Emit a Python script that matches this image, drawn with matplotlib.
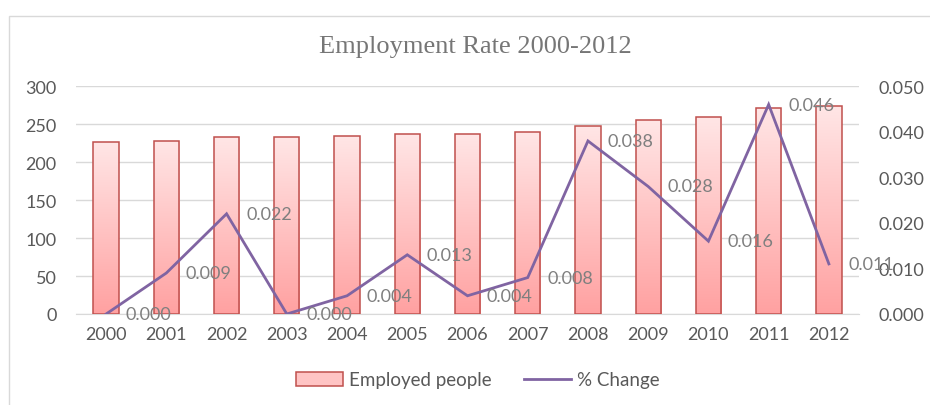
import numpy as np
import matplotlib
matplotlib.use("Agg")
import matplotlib.pyplot as plt
from matplotlib.patches import Patch, Rectangle
from matplotlib.lines import Line2D
from matplotlib.colors import LinearSegmentedColormap

years = ["2000", "2001", "2002", "2003", "2004", "2005", "2006",
         "2007", "2008", "2009", "2010", "2011", "2012"]
employed = [226, 228, 233, 233, 234, 237, 237.5, 240, 248, 255.5, 259, 271, 274]
pct_change = [0.000, 0.009, 0.022, 0.000, 0.004, 0.013, 0.004,
              0.008, 0.038, 0.028, 0.016, 0.046, 0.011]
pct_labels = ["0.000", "0.009", "0.022", "0.000", "0.004", "0.013", "0.004",
              "0.008", "0.038", "0.028", "0.016", "0.046", "0.011"]
left_ticks = [0, 50, 100, 150, 200, 250, 300]
right_ticks = [0.0, 0.01, 0.02, 0.03, 0.04, 0.05]

FONT = "Lato"
TICK_C = "#595959"
LAB_C = "#7f7f7f"
GRID_C = "#d9d9d9"
EDGE_C = "#c0504d"
LINE_C = "#8064a2"

fig = plt.figure(figsize=(9.3, 4.06), dpi=100)
fig.patch.set_facecolor("white")

# outer chart frame
fig.patches.append(Rectangle((9 / 930, -0.2), 1.2, 1.2 - 17 / 406 + 0.0,
                             transform=fig.transFigure, fill=False,
                             edgecolor=GRID_C, lw=1.0, zorder=0))

ax = fig.add_axes([76 / 930, 1 - 315 / 406, (859 - 76) / 930, (315 - 87.3) / 406])
ax2 = ax.twinx()

x = np.arange(len(years))
w = 0.42
cmap = LinearSegmentedColormap.from_list("g", ["#ffa1a1", "#ffe6e6"])
grad = np.linspace(0, 1, 256).reshape(-1, 1)
bars = ax.bar(x, employed, width=w, facecolor="none", edgecolor=EDGE_C,
              linewidth=1.1, zorder=3)
for b in bars:
    bx, by = b.get_x(), b.get_y()
    bw, bh = b.get_width(), b.get_height()
    im = ax.imshow(grad, cmap=cmap, origin="lower", aspect="auto",
                   extent=(bx, bx + bw, 0, bh), zorder=2, interpolation="bicubic")
    im.set_clip_path(b)

ax.set_xlim(-0.5, len(years) - 0.5)
ax.set_ylim(0, 300)
ax.set_yticks(left_ticks)
ax.set_xticks(x)
ax.set_xticklabels(years)
ax.grid(axis="y", color=GRID_C, lw=1.0, zorder=0)
ax.set_axisbelow(True)
for s in ax.spines.values():
    s.set_visible(False)
ax.spines["bottom"].set_visible(True)
ax.spines["bottom"].set_color(GRID_C)
ax.tick_params(axis="both", length=0, labelsize=13, labelcolor=TICK_C)
ax.tick_params(axis="y", pad=14)
ax.tick_params(axis="x", pad=9)

ax2.plot(x, pct_change, color=LINE_C, lw=2.0, zorder=5, solid_joinstyle="miter")
ax2.set_ylim(0, 0.05)
ax2.set_yticks(right_ticks)
ax2.set_yticklabels([f"{v:.3f}" for v in right_ticks])
for s in ax2.spines.values():
    s.set_visible(False)
ax2.tick_params(axis="y", length=0, labelsize=13, labelcolor=TICK_C, pad=14)
for xi, v, t in zip(x, pct_change, pct_labels):
    ax2.annotate(t, (xi, v), xytext=(14, 0), textcoords="offset points",
                 ha="left", va="center", fontsize=13, color=LAB_C,
                 family=FONT, zorder=6, annotation_clip=False)

for lab in ax.get_xticklabels() + ax.get_yticklabels() + ax2.get_yticklabels():
    lab.set_family(FONT)

fig.text(475 / 930, 1 - 47 / 406, "Employment Rate 2000-2012",
         ha="center", va="center", fontsize=19, color="#767676",
         family="Liberation Serif")

handles = [Patch(facecolor="#ffc4c4", edgecolor=EDGE_C, lw=1.1),
           Line2D([0], [0], color=LINE_C, lw=2.0)]
fig.legend(handles, ["Employed people", "% Change"], loc="center",
           bbox_to_anchor=(478 / 930, 1 - 381 / 406), ncol=2, frameon=False,
           prop={"family": FONT, "size": 13.5}, labelcolor=TICK_C,
           handlelength=2.5, handleheight=0.7, handletextpad=0.35,
           columnspacing=1.7)

fig.savefig("out.png", dpi=100, facecolor="white")
